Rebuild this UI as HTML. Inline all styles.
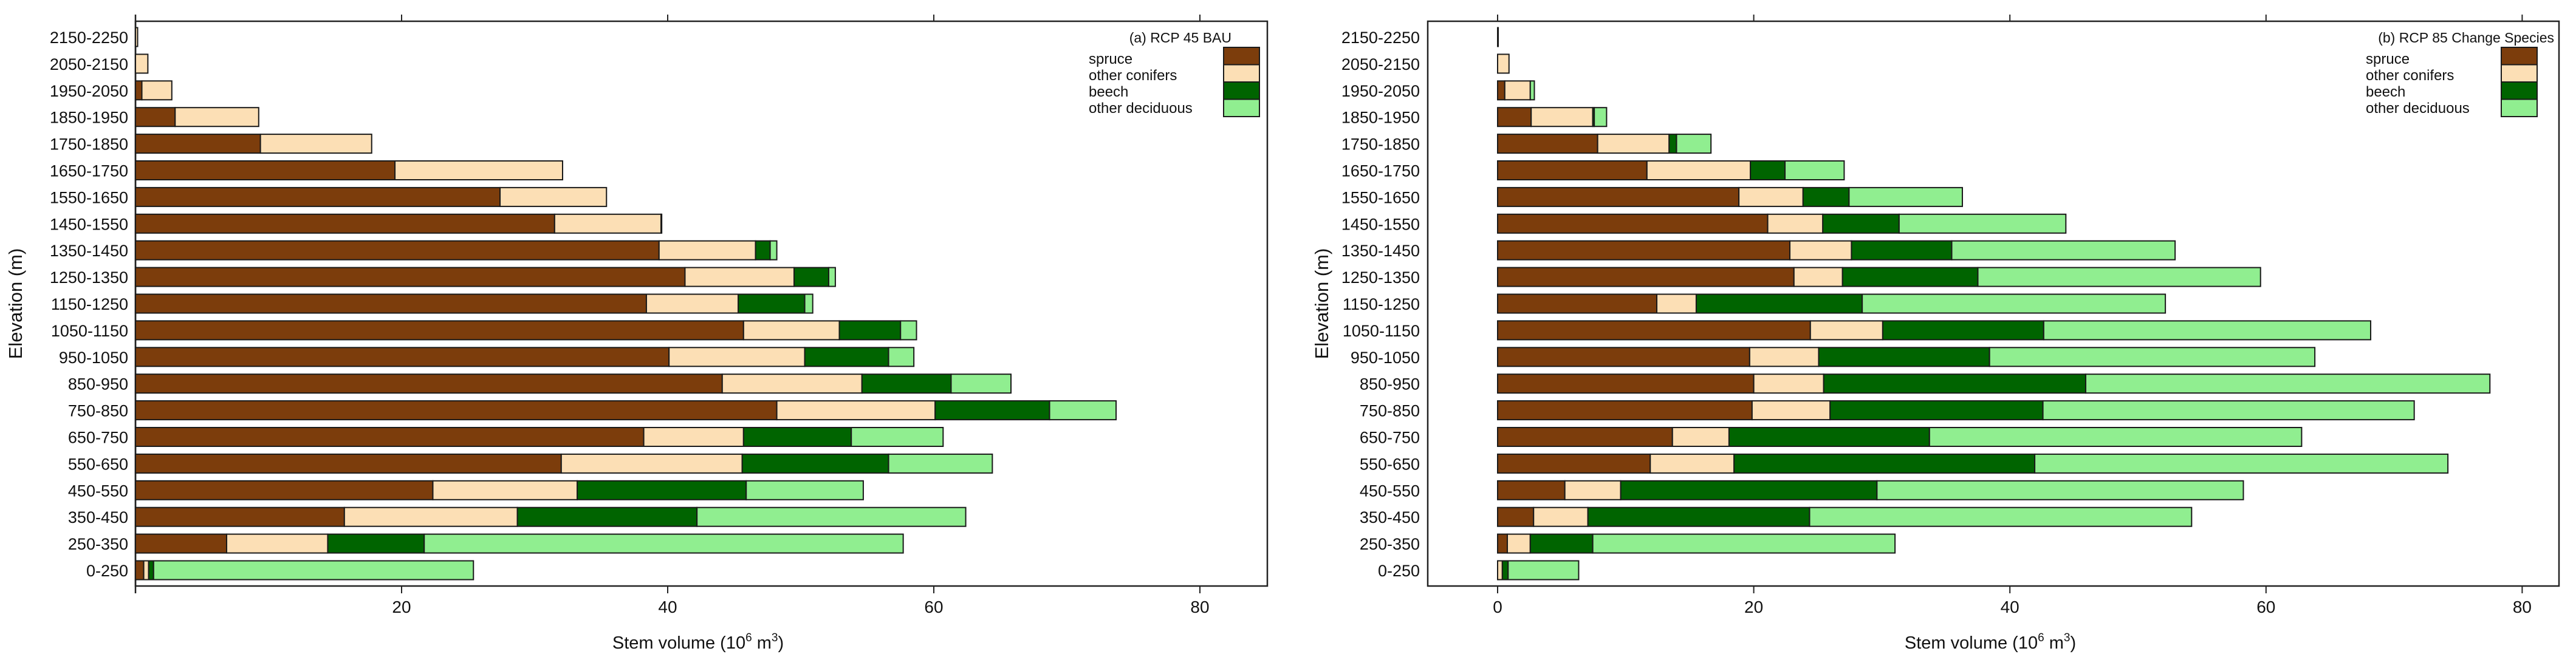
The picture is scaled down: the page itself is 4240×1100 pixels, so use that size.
<!DOCTYPE html>
<html><head><meta charset="utf-8">
<style>
html,body{margin:0;padding:0;background:#fff;}
svg{display:block;font-family:"Liberation Sans",Arial,sans-serif;}
</style></head>
<body>
<svg id="chart" width="4240" height="1100" viewBox="0 0 4240 1100" xmlns="http://www.w3.org/2000/svg">
<rect x="0" y="0" width="4240" height="1100" fill="#fff"/>
</svg>
<script>
// categories top to bottom
const categories = ["2150-2250","2050-2150","1950-2050","1850-1950","1750-1850","1650-1750","1550-1650","1450-1550","1350-1450","1250-1350","1150-1250","1050-1150","950-1050","850-950","750-850","650-750","550-650","450-550","350-450","250-350","0-250"];
const speciesNames = ["spruce","other conifers","beech","other deciduous"];
const speciesColors = ["#7C3D0C","#FCDFB5","#006400","#90EE90"];
const xTicks = [0,20,40,60,80];
// panel a: component volumes
const aSpruce   = [0,0,0.48,2.98,9.39,19.5,27.4,31.5,39.35,41.3,38.4,45.7,40.1,44.1,48.2,38.2,32.0,22.35,15.7,6.85,0.62];
const aConifers = [0.16,0.93,2.25,6.28,8.36,12.6,8.0,8.0,7.25,8.2,6.9,7.2,10.2,10.5,11.9,7.5,13.6,10.85,13.0,7.6,0.37];
const aBeech    = [0,0,0,0,0,0,0,0.05,1.1,2.6,5.0,4.6,6.3,6.7,8.6,8.1,11.0,12.7,13.5,7.25,0.37];
const aDecid    = [0,0,0,0,0,0,0,0,0.5,0.5,0.6,1.2,1.9,4.5,5.0,6.9,7.8,8.8,20.2,36.0,24.04];
// panel b: component volumes
const bSpruce   = [0.05,0,0.56,2.62,7.81,11.66,18.84,21.09,22.82,23.14,12.43,24.42,19.68,20.0,19.87,13.65,11.92,5.25,2.81,0.76,0];
const bConifers = [0,0.89,1.99,4.81,5.58,8.08,5.01,4.3,4.81,3.79,3.08,5.65,5.39,5.46,6.09,4.42,6.54,4.36,4.24,1.79,0.37];
const bBeech    = [0,0,0,0.12,0.58,2.7,3.59,5.96,7.83,10.57,12.96,12.57,13.34,20.46,16.62,15.65,23.48,20.01,17.31,4.88,0.45];
const bDecid    = [0,0,0.32,0.96,2.69,4.62,8.85,13.02,17.44,22.07,23.67,25.53,25.4,31.56,28.99,29.06,32.26,28.61,29.83,23.6,5.51];

const NS="http://www.w3.org/2000/svg";
const svg=document.getElementById('chart');
function mk(tag,attrs,parent){const e=document.createElementNS(NS,tag);for(const k in attrs)e.setAttribute(k,attrs[k]);(parent||svg).appendChild(e);return e;}

const Y0=61, DY=43.9, BH=31;
function yPos(i){return Y0+i*DY;}

function panel(cfg){
  const g=mk('g',{});
  
  
  const xs=v=>cfg.x0+v*cfg.k;
  const fr=mk('rect',{x:cfg.boxL,y:35,width:cfg.boxR-cfg.boxL,height:930,fill:'none',stroke:'#222','stroke-width':2.5},g);
  
  
  xTicks.forEach(t=>{
    if(t===0 && !cfg.zeroLabel) return;
    const x=xs(t);
    const tb=mk('line',{x1:x,y1:965,x2:x,y2:977,stroke:'#222','stroke-width':2},g);
    
    
    const tt=mk('line',{x1:x,y1:35,x2:x,y2:24,stroke:'#222','stroke-width':2},g);
    
    
    const lb=mk('text',{x:x,y:1009,'font-size':28,'text-anchor':'middle',fill:'#111'},g);
    lb.textContent=String(t);
    
    
  });
  if(!cfg.zeroLabel){
    mk('line',{x1:cfg.boxL,y1:24,x2:cfg.boxL,y2:977,stroke:'#222','stroke-width':2.5},g);
  }
  categories.forEach((c,i)=>{
    const t=mk('text',{x:cfg.labR,y:yPos(i)+10,'font-size':27,'text-anchor':'end',fill:'#111'},g);
    t.textContent=c;
    
    
  });
  const series=cfg.data;
  categories.forEach((c,i)=>{
    let acc=0;
    series.forEach((arr,s)=>{
      const v=arr[i];
      if(v<=0) return;
      const r=mk('rect',{x:xs(acc),y:yPos(i)-BH/2,width:Math.max(v*cfg.k,1),height:BH,fill:speciesColors[s],stroke:'#1a1a1a','stroke-width':2},g);
      
      
      acc+=v;
    });
  });
  const yt=mk('text',{x:0,y:0,'font-size':31,'text-anchor':'middle',fill:'#111',transform:`translate(${cfg.yTitleX},500) rotate(-90)`},g);
  yt.textContent='Elevation (m)';
  
  
  const xt=mk('text',{x:cfg.xTitleX,y:1068,'font-size':29,'text-anchor':'middle',fill:'#111'},g);
  xt.innerHTML='Stem volume (10<tspan dy="-12" font-size="19">6</tspan><tspan dy="12"> m</tspan><tspan dy="-12" font-size="19">3</tspan><tspan dy="12">)</tspan>';
  
  
  const ti=mk('text',{x:cfg.titleR,y:70,'font-size':23,'text-anchor':'end',fill:'#111'},g);
  ti.textContent=cfg.title;
  
  
  speciesNames.forEach((n,s)=>{
    const sw=mk('rect',{x:cfg.swX,y:78+s*28.5,width:59,height:28.5,fill:speciesColors[s],stroke:'#1a1a1a','stroke-width':2},g);
    
    
    const lt=mk('text',{x:cfg.legX,y:105+s*27,'font-size':24,fill:'#111'},g);
    lt.textContent=n;
    
    
  });
}

panel({name:'panel-a-rcp45-bau',x0:223,k:21.9,boxL:223,boxR:2086,labR:211,yTitleX:36,xTitleX:1149,
  title:'(a) RCP 45 BAU',titleR:2027,swX:2014,legX:1792,zeroLabel:false,
  data:[aSpruce,aConifers,aBeech,aDecid]});
panel({name:'panel-b-rcp85-change-species',x0:2465,k:21.08,boxL:2350,boxR:4212,labR:2337,yTitleX:2186,xTitleX:3276,
  title:'(b) RCP 85 Change Species',titleR:4204,swX:4117,legX:3894,zeroLabel:true,
  data:[bSpruce,bConifers,bBeech,bDecid]});
</script>
</body></html>
